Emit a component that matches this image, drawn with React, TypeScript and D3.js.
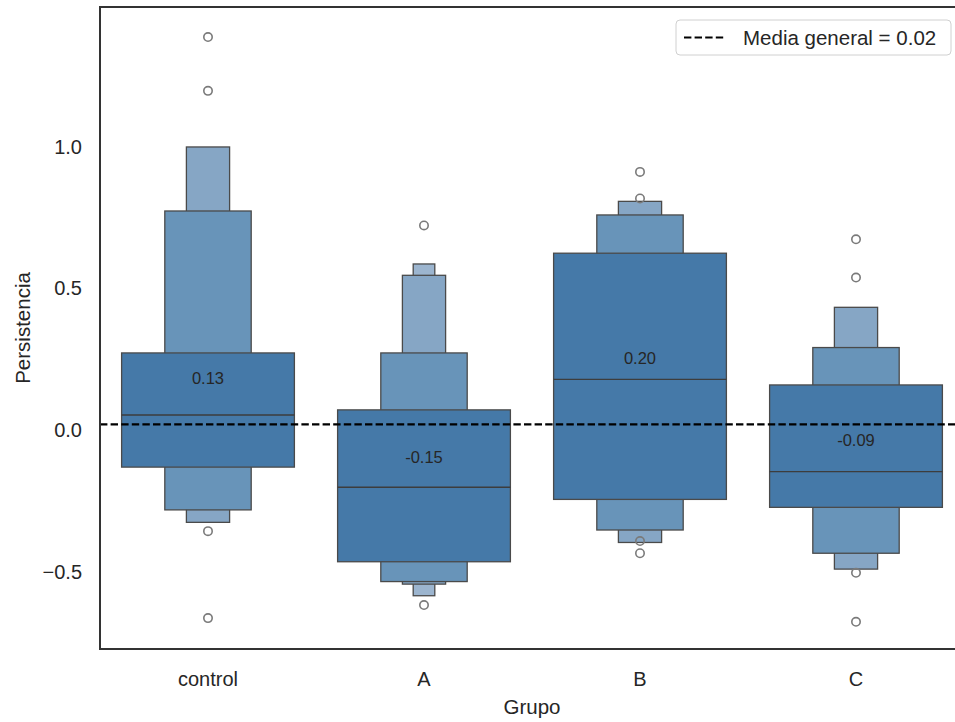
import React from "react";
import * as d3 from "d3";

// Groups and summary statistics of "Persistencia"
const groups = ["control", "A", "B", "C"];
const means = [0.13, -0.15, 0.2, -0.09];
const medians = [0.053, -0.202, 0.179, -0.147];

// Letter-value boxes per group, innermost first: [lower, upper]
const controlLevels: [number, number][] = [
  [-0.131, 0.272],
  [-0.282, 0.773],
  [-0.326, 0.999],
];
const aLevels: [number, number][] = [
  [-0.465, 0.071],
  [-0.535, 0.272],
  [-0.544, 0.546],
  [-0.585, 0.586],
];
const bLevels: [number, number][] = [
  [-0.245, 0.624],
  [-0.353, 0.759],
  [-0.397, 0.807],
];
const cLevels: [number, number][] = [
  [-0.273, 0.159],
  [-0.435, 0.291],
  [-0.491, 0.433],
];
const levelsByGroup = [controlLevels, aLevels, bLevels, cLevels];

// Points outside the outermost box
const controlOutliers = [1.387, 1.197, -0.357, -0.664];
const aOutliers = [0.722, -0.618];
const bOutliers = [0.911, 0.817, -0.392, -0.435];
const cOutliers = [0.673, 0.538, -0.504, -0.677];
const outliersByGroup = [controlOutliers, aOutliers, bOutliers, cOutliers];

const overallMean = 0.02;
const yTicks = [-0.5, 0, 0.5, 1.0];

// Fill colours per level, innermost (darkest) first
const levelColors = ["#4579a8", "#6894b9", "#86a6c5", "#9cb5cf"];

const W = 955;
const H = 722;
const left = 100;
const right = 964;
const top = 7;
const bottom = 649;
const font = "'Liberation Sans', Arial, sans-serif";

export default function App() {
  const x = d3.scaleBand<string>().domain(groups).range([left, right]).padding(0);
  const y = d3.scaleLinear().domain([-0.773, 1.493]).range([bottom, top]);
  const fmt = d3.format(".1f");
  const bw = x.bandwidth() * 0.8;

  return (
    <svg
      width={W}
      height={H}
      style={{ position: "absolute", left: 0, top: 0, background: "#fff" }}
      fontFamily={font}
    >
      <defs>
        <clipPath id="plot-area">
          <rect x={left} y={top} width={right - left} height={bottom - top} />
        </clipPath>
      </defs>
      <rect x={0} y={0} width={W} height={H} fill="#fff" />

      <g clipPath="url(#plot-area)">
        {groups.map((g, gi) => {
          const cx = (x(g) as number) + x.bandwidth() / 2;
          const levels = levelsByGroup[gi];
          // outer levels first so wider inner boxes sit on top
          const order = levels.map((_, i) => i).reverse();
          return (
            <g key={g}>
              {order.map((li) => {
                const [lo, hi] = levels[li];
                const w = bw / Math.pow(2, li);
                return (
                  <rect
                    key={li}
                    x={cx - w / 2}
                    y={y(hi)}
                    width={w}
                    height={y(lo) - y(hi)}
                    fill={levelColors[li]}
                    stroke="#4a4a4a"
                    strokeWidth={1.3}
                  />
                );
              })}
              <line
                x1={cx - bw / 2}
                x2={cx + bw / 2}
                y1={y(medians[gi])}
                y2={y(medians[gi])}
                stroke="#3d3d3d"
                strokeWidth={1.3}
              />
              {outliersByGroup[gi].map((v, oi) => (
                <circle
                  key={oi}
                  cx={cx}
                  cy={y(v)}
                  r={4.2}
                  fill="none"
                  stroke="#7a7a7a"
                  strokeWidth={1.6}
                />
              ))}
              <text
                x={cx}
                y={y(means[gi]) - 15}
                textAnchor="middle"
                dominantBaseline="central"
                fontSize={16.5}
                fill="#262626"
              >
                {means[gi].toFixed(2)}
              </text>
            </g>
          );
        })}
        <line
          x1={left}
          x2={right}
          y1={y(overallMean)}
          y2={y(overallMean)}
          stroke="#000"
          strokeWidth={2.2}
          strokeDasharray="7.4 3.2"
        />
      </g>

      {/* spines */}
      <rect
        x={left}
        y={top}
        width={right - left}
        height={bottom - top}
        fill="none"
        stroke="#333"
        strokeWidth={2}
      />

      {/* y tick labels */}
      {yTicks.map((t) => (
        <text
          key={t}
          x={82}
          y={y(t)}
          textAnchor="end"
          dominantBaseline="central"
          fontSize={20}
          fill="#262626"
        >
          {fmt(t)}
        </text>
      ))}

      {/* x tick labels */}
      {groups.map((g) => (
        <text
          key={g}
          x={(x(g) as number) + x.bandwidth() / 2}
          y={679}
          textAnchor="middle"
          dominantBaseline="central"
          fontSize={20}
          fill="#262626"
        >
          {g}
        </text>
      ))}

      <text
        x={(left + right) / 2}
        y={706}
        textAnchor="middle"
        dominantBaseline="central"
        fontSize={20.5}
        fill="#262626"
      >
        Grupo
      </text>
      <text
        transform={`translate(22, ${(top + bottom) / 2}) rotate(-90)`}
        textAnchor="middle"
        dominantBaseline="central"
        fontSize={20.5}
        fill="#262626"
      >
        Persistencia
      </text>

      {/* legend */}
      <g>
        <rect
          x={676}
          y={20}
          width={275}
          height={35}
          rx={4}
          fill="#fff"
          fillOpacity={0.8}
          stroke="#d0d0d0"
          strokeWidth={1}
        />
        <line
          x1={684}
          x2={725}
          y1={37.5}
          y2={37.5}
          stroke="#000"
          strokeWidth={2.2}
          strokeDasharray="7.4 3.2"
        />
        <text
          x={743}
          y={37.5}
          dominantBaseline="central"
          fontSize={20.5}
          fill="#262626"
        >
          Media general = 0.02
        </text>
      </g>
    </svg>
  );
}
